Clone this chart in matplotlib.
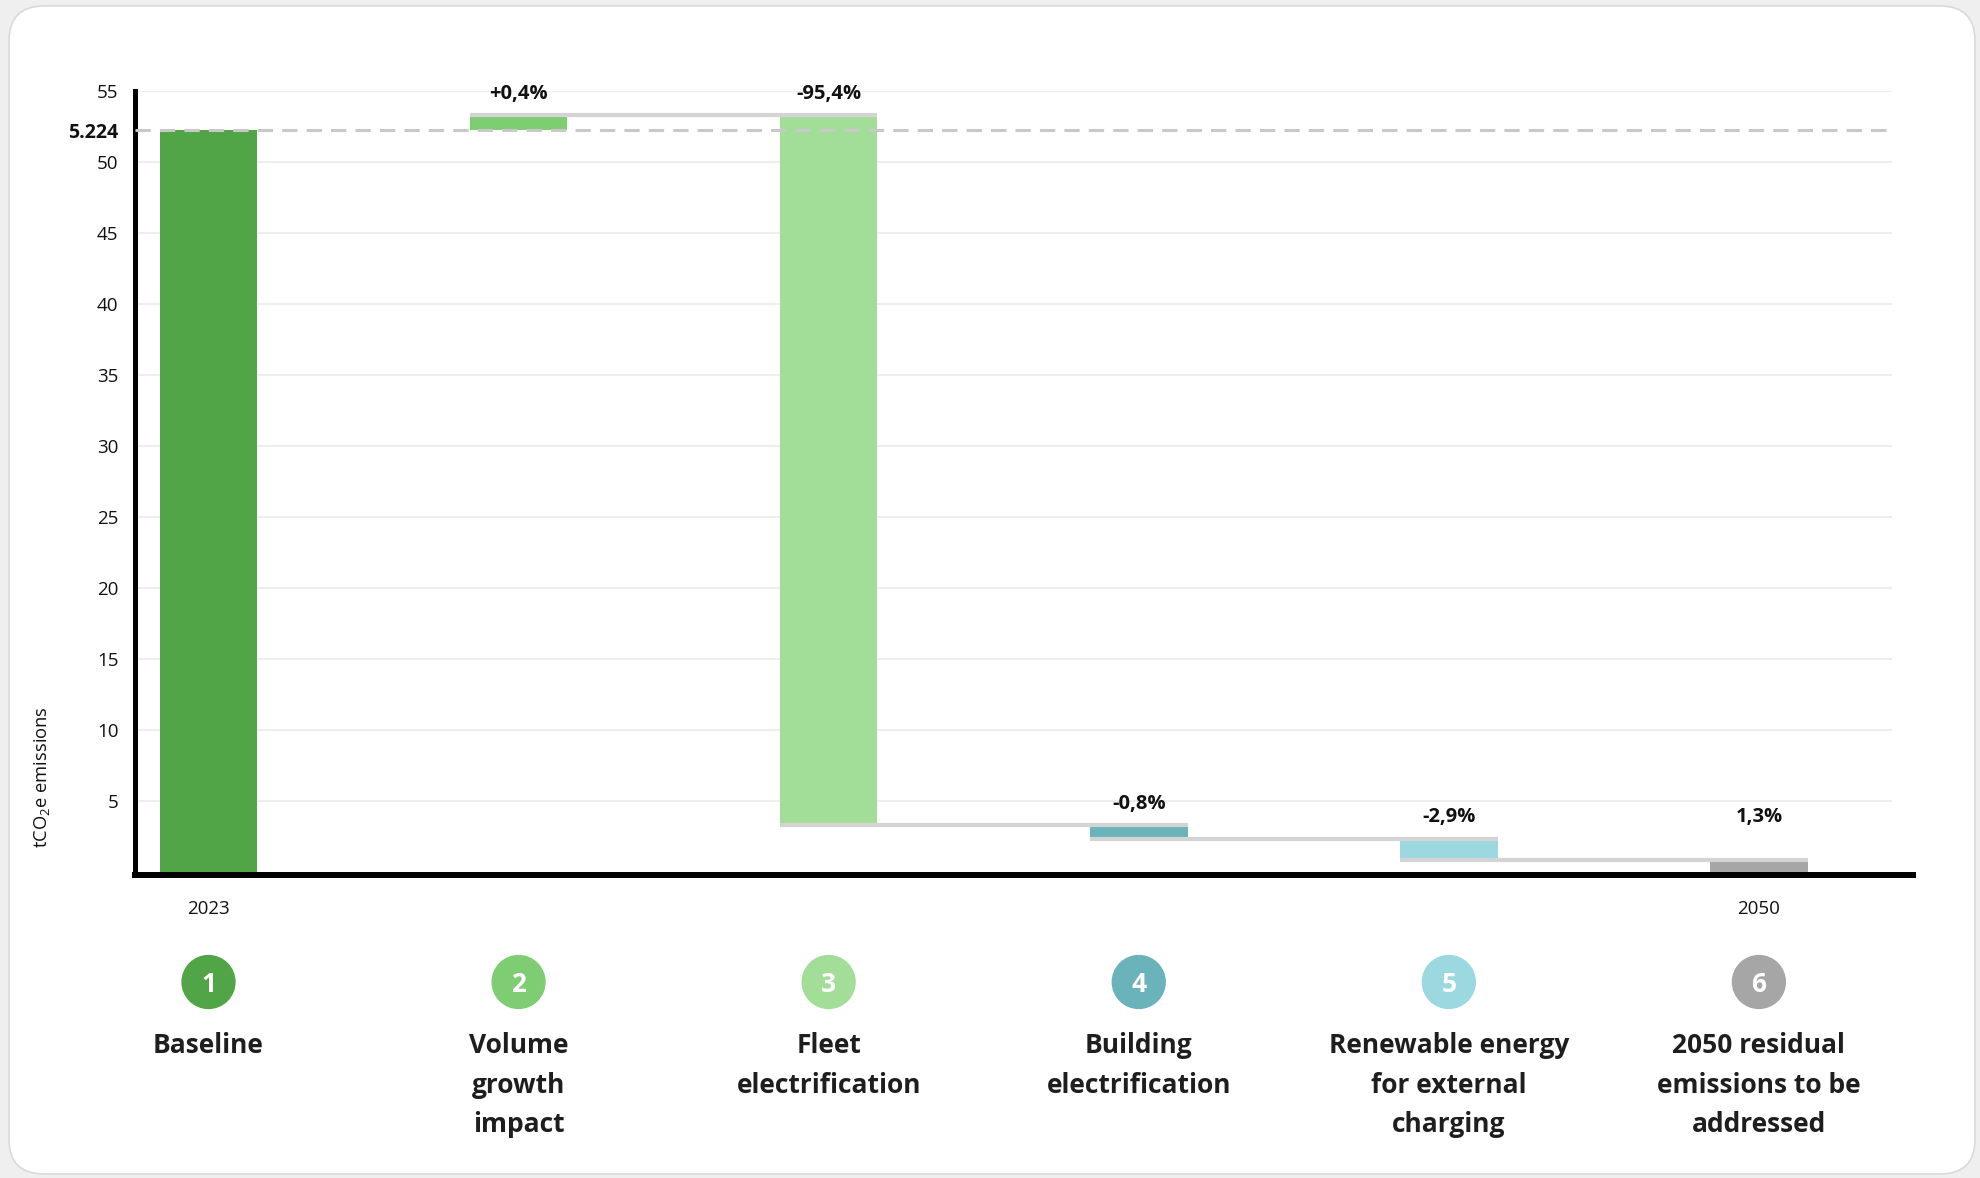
import numpy as np
import matplotlib
matplotlib.use("Agg")
import matplotlib.pyplot as plt
from matplotlib.patches import FancyBboxPatch

plt.rcParams['font.family'] = ['Open Sans', 'DejaVu Sans']
plt.rcParams['mathtext.fontset'] = 'custom'
plt.rcParams['mathtext.rm'] = 'Open Sans'

# data
categories = ['Baseline', 'Volume\ngrowth\nimpact', 'Fleet\nelectrification',
              'Building\nelectrification', 'Renewable energy\nfor external\ncharging',
              '2050 residual\nemissions to be\naddressed']
baseline = 52.24
changes = [1.06, -50.0, -0.95, -1.5]
residual = 0.75
pct_labels = ['', '+0,4%', '-95,4%', '-0,8%', '-2,9%', '1,3%']
colors = ['#52a546', '#7fcd73', '#a2de98', '#6ab3bb', '#9bd8e0', '#a6a6a6']
year_ticks = [0, 5]
year_labels = ['2023', '2050']

levels = baseline + np.cumsum(changes)
bottoms = [0.0]
heights = [baseline]
prev = baseline
for lv in levels:
    bottoms.append(min(prev, lv))
    heights.append(abs(lv - prev))
    prev = lv
bottoms.append(0.0)
heights.append(residual)

W, H = 1981, 1178
fig = plt.figure(figsize=(W / 100, H / 100), dpi=100)
fig.patch.set_facecolor('#efefef')

# white card with rounded corners
card = FancyBboxPatch((0.09, 0.04), 19.66, 11.68, boxstyle='round,pad=0,rounding_size=0.35',
                      transform=fig.dpi_scale_trans, facecolor='white', edgecolor='#dadada',
                      linewidth=1.2, zorder=-10)
fig.add_artist(card)

ax_l, ax_r, ax_b, ax_t = 135, 1913, 872, 91
ax = fig.add_axes([ax_l / W, (H - ax_b) / H, (ax_r - ax_l) / W, (ax_b - ax_t) / H])
ax.set_facecolor('none')

x = np.arange(len(categories))
bw = 0.315
ax.set_xlim(-0.237, 5.497)
ax.set_ylim(0, 55)

# gridlines
grid_end = 5.43
for yv in range(5, 60, 5):
    ax.hlines(yv, -0.237, grid_end, color='#eeeeee', lw=1.5, zorder=0)

ax.bar(x, heights, bottom=bottoms, width=bw, color=colors, zorder=2)

# baseline dashed line
ax.hlines(baseline, -0.237, grid_end, color='#c8c8c8', lw=2.2, linestyles=(0, (5, 3)), zorder=3)

# connectors
for i in range(1, len(levels) + 1):
    ax.hlines(levels[i - 1], x[i] - bw / 2, x[i + 1] + bw / 2, color='#d4d4d4', lw=3, zorder=3)

# percentage labels
label_y = []
for i in range(1, len(x)):
    if i < len(x) - 1:
        top = max(levels[i - 1], bottoms[i] + heights[i])
        ly = top + 1.5
    else:
        ly = label_y[-1]
    label_y.append(ly)
    ax.text(x[i], ly, pct_labels[i], ha='center', va='center', fontsize=14.5,
            fontweight='bold', color='#111111', zorder=4)

# axes styling
for s in ['top', 'right']:
    ax.spines[s].set_visible(False)
ax.spines['left'].set_linewidth(3.6)
ax.spines['bottom'].set_linewidth(4.3)
ax.spines['bottom'].set_position(('outward', 2))
ax.spines['left'].set_bounds(0, 55)

yt = list(range(5, 60, 5))
ax.set_yticks(yt + [baseline])
ax.set_yticklabels([str(v) for v in yt] + ['5.224'])
ax.tick_params(axis='y', length=0, pad=12, labelsize=13.5, labelcolor='#111111')
lab = ax.get_yticklabels()[-1]
lab.set_fontweight('bold')
lab.set_fontsize(14)
ax.set_xticks(year_ticks)
ax.set_xticklabels(year_labels)
ax.tick_params(axis='x', length=0, pad=18, labelsize=13.5, labelcolor='#111111')

fig.text(42 / W, 1 - 777 / H, r'tCO$_2$e emissions', rotation=90, ha='center', va='center',
         fontsize=13.2, color='#111111')

# numbered circles and category names
tr = ax.get_xaxis_transform()
circle_y = (ax_b - 982) / (ax_b - ax_t)
name_y = (ax_b - 1032) / (ax_b - ax_t)
ax.scatter(x, [circle_y] * len(x), s=1450, c=colors, transform=tr, clip_on=False, zorder=5)
for i in range(len(x)):
    ax.text(x[i], circle_y, str(i + 1), transform=tr, ha='center', va='center_baseline',
            fontsize=19, fontweight='bold', color='white', zorder=6)
    ax.text(x[i], name_y, categories[i], transform=tr, ha='center', va='top',
            fontsize=19, fontweight='bold', color='#1e1e1e', linespacing=1.6)

fig.savefig('out.png', dpi=100, facecolor=fig.get_facecolor())
